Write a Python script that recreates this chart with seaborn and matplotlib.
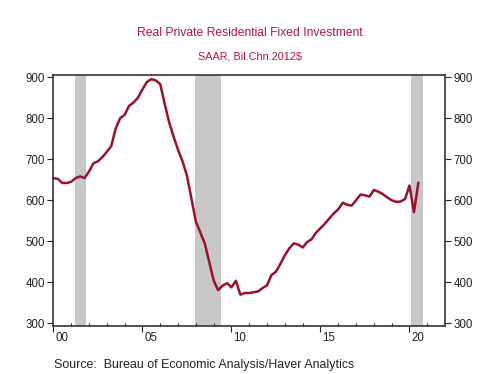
import numpy as np
import pandas as pd
import seaborn as sns
import matplotlib.pyplot as plt

# quarterly values, 2000Q1 - 2020Q3
values = [
    654, 652, 642, 642,   # 2000
    645, 654, 658, 654,   # 2001
    670, 690, 695, 705,   # 2002
    718, 732, 775, 800,   # 2003
    808, 830, 838, 850,   # 2004
    870, 888, 895, 892,   # 2005
    883, 835, 790, 755,   # 2006
    723, 695, 660, 605,   # 2007
    548, 522, 495, 450,   # 2008
    405, 381, 392, 398,   # 2009
    388, 404, 370, 374,   # 2010
    374, 376, 378, 386,   # 2011
    393, 418, 426, 445,   # 2012
    466, 483, 495, 492,   # 2013
    485, 498, 505, 521,   # 2014
    532, 543, 556, 568,   # 2015
    578, 594, 589, 587,   # 2016
    600, 614, 612, 609,   # 2017
    625, 621, 615, 607,   # 2018
    600, 596, 597, 603,   # 2019
    636, 571, 643,        # 2020
]
recessions = [(2001.2, 2001.85), (2007.95, 2009.43), (2020.1, 2020.75)]
year_labels = ["00", "05", "10", "15", "20"]
year_ticks = [2000, 2005, 2010, 2015, 2020]

df = pd.DataFrame({"date": 2000 + np.arange(len(values)) / 4, "value": values})

sns.set_style("ticks")
plt.rcParams["font.family"] = ["Liberation Sans", "DejaVu Sans"]

fig = plt.figure(figsize=(4.99, 3.74), dpi=100)
ax = fig.add_axes([0.107, 0.128, 0.785, 0.672])

for a, b in recessions:
    ax.axvspan(a, b, color="#c8c8c8", lw=0, zorder=0)

sns.lineplot(data=df, x="date", y="value", color="#9e0f2b", lw=1.8, ax=ax)

ax.set_xlim(2000, 2022)
ax.set_ylim(293.4, 905.6)
ax.set_xlabel("")
ax.set_ylabel("")

ax.set_xticks(year_ticks)
ax.set_xticklabels([])
ax.set_xticks(range(2000, 2022), minor=True)
ax.tick_params(axis="x", which="major", direction="out", length=4, width=0.8)
ax.tick_params(axis="x", which="minor", direction="in", length=2.5, width=0.8)
for t, lab in zip(year_ticks, year_labels):
    ax.annotate(lab, xy=(t + 0.47, 0), xycoords=("data", "axes fraction"),
                xytext=(0, -4.5), textcoords="offset points",
                ha="center", va="top", fontsize=8.3, color="#222222")

ax.set_yticks(range(300, 901, 100))
ax.tick_params(axis="y", which="both", direction="out", length=4, width=0.8,
               labelsize=8.3, labelcolor="#222222", left=True, right=True,
               labelleft=True, labelright=True, pad=2)

for s in ax.spines.values():
    s.set_linewidth(1.2)
    s.set_color("#333333")

fig.text(0.5, 0.912, "Real Private Residential Fixed Investment", ha="center", va="center",
         fontsize=8.7, color="#b5173d")
fig.text(0.5, 0.849, "SAAR, Bil.Chn.2012$", ha="center", va="center",
         fontsize=7.8, color="#b5173d")
fig.text(0.108, 0.024, "Source:  Bureau of Economic Analysis/Haver Analytics", ha="left", va="center",
         fontsize=8.9, color="#222222")

fig.savefig("out.png", dpi=100)
